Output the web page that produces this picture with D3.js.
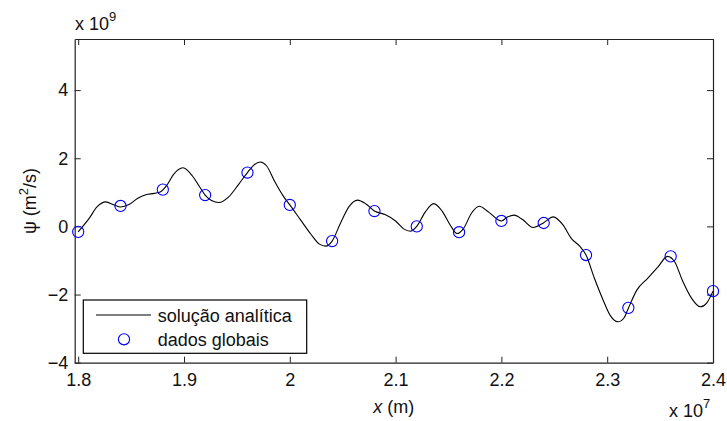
<!DOCTYPE html>
<html>
<head>
<meta charset="utf-8">
<script src="https://cdn.jsdelivr.net/npm/d3@7/dist/d3.min.js"></script>
<style>
  html, body { margin: 0; padding: 0; background: #fff; }
  svg { display: block; font-family: "Liberation Sans", Arial, Helvetica, sans-serif; }
</style>
</head>
<body>
<svg id="chart" width="727" height="421"></svg>
<script>
// x in units of 1e7 m, psi in units of 1e9 m^2/s
const analyticX = [
  1.800, 1.810, 1.818, 1.826, 1.834, 1.840, 1.848, 1.856, 1.864, 1.872,
  1.878, 1.884, 1.890, 1.899, 1.908, 1.915, 1.920, 1.926, 1.933, 1.942,
  1.952, 1.960, 1.966, 1.972, 1.978, 1.986, 1.994, 2.000, 2.010, 2.020,
  2.028, 2.034, 2.040, 2.048, 2.056, 2.064, 2.072, 2.080, 2.090, 2.100,
  2.108, 2.114, 2.120, 2.128, 2.136, 2.144, 2.152, 2.158, 2.164, 2.172,
  2.179, 2.188, 2.200, 2.206, 2.212, 2.220, 2.230, 2.240, 2.249, 2.258,
  2.266, 2.274, 2.280, 2.288, 2.296, 2.303, 2.310, 2.316, 2.320, 2.328,
  2.338, 2.348, 2.357, 2.364, 2.371, 2.380, 2.388, 2.394, 2.400
];
const analyticPsi = [
  -0.16, 0.22, 0.58, 0.72, 0.63, 0.57, 0.64, 0.82, 0.93, 0.97,
  1.02, 1.22, 1.52, 1.72, 1.48, 1.15, 0.92, 0.76, 0.70, 0.86,
  1.25, 1.58, 1.80, 1.89, 1.78, 1.30, 0.88, 0.63, 0.20, -0.23,
  -0.52, -0.58, -0.43, 0.10, 0.58, 0.77, 0.66, 0.45, 0.35, 0.16,
  -0.08, -0.14, 0.00, 0.42, 0.67, 0.45, 0.02, -0.21, -0.07, 0.40,
  0.59, 0.42, 0.16, 0.28, 0.33, 0.20, -0.03, 0.11, 0.28, 0.05,
  -0.35, -0.58, -0.84, -1.53, -2.15, -2.62, -2.80, -2.68, -2.40, -1.87,
  -1.53, -1.19, -0.88, -1.05, -1.58, -2.12, -2.36, -2.25, -1.90
];

const globalX = [1.80, 1.84, 1.88, 1.92, 1.96, 2.00, 2.04, 2.08, 2.12, 2.16, 2.20, 2.24, 2.28, 2.32, 2.36, 2.40];
const globalPsi = [-0.16, 0.60, 1.08, 0.92, 1.58, 0.63, -0.43, 0.45, 0.00, -0.17, 0.16, 0.10, -0.84, -2.39, -0.88, -1.90];

const xTicks = [1.8, 1.9, 2.0, 2.1, 2.2, 2.3, 2.4];
const xTickLabels = ["1.8", "1.9", "2", "2.1", "2.2", "2.3", "2.4"];
const yTicks = [-4, -2, 0, 2, 4];
const yTickLabels = ["\u22124", "\u22122", "0", "2", "4"];

const legendLabels = ["solução analítica", "dados globais"];

const W = 727, H = 421;
const margin = { left: 74.7, top: 39, right: 14, bottom: 58.3 };
const pw = W - margin.left - margin.right;
const ph = H - margin.top - margin.bottom;

const svg = d3.select("#chart");
const g = svg.append("g").attr("transform", `translate(${margin.left},${margin.top})`);

const x = d3.scaleLinear().domain([1.7967, 2.4]).range([0, pw]);
const y = d3.scaleLinear().domain([-4, 5.5]).range([ph, 0]);

const FS = 18;
const axisColor = "#222";
const tickLen = 6;

// axes on all four sides, ticks pointing inward
const axBottom = g.append("g").attr("transform", `translate(0,${ph})`)
  .call(d3.axisBottom(x).tickValues(xTicks).tickSizeInner(-tickLen).tickSizeOuter(0)
    .tickPadding(11).tickFormat((d, i) => xTickLabels[i]));
const axTop = g.append("g")
  .call(d3.axisTop(x).tickValues(xTicks).tickSizeInner(-tickLen).tickSizeOuter(0).tickFormat(""));
const axLeft = g.append("g")
  .call(d3.axisLeft(y).tickValues(yTicks).tickSizeInner(-tickLen).tickSizeOuter(0)
    .tickPadding(6.5).tickFormat((d, i) => yTickLabels[i]));
const axRight = g.append("g").attr("transform", `translate(${pw},0)`)
  .call(d3.axisRight(y).tickValues(yTicks).tickSizeInner(-tickLen).tickSizeOuter(0).tickFormat(""));

[axBottom, axTop, axLeft, axRight].forEach(a => {
  a.select(".domain").attr("stroke", axisColor).attr("stroke-width", 1.2);
  a.selectAll(".tick line").attr("stroke", axisColor).attr("stroke-width", 1);
  a.selectAll(".tick text").attr("fill", "#111").style("font-size", FS + "px")
    .style("font-family", '"Liberation Sans", Arial, sans-serif');
});

// analytic solution
const line = d3.line()
  .x((d, i) => x(analyticX[i]))
  .y(d => y(d))
  .curve(d3.curveMonotoneX);
g.append("path")
  .datum(analyticPsi)
  .attr("d", line)
  .attr("fill", "none")
  .attr("stroke", "#000")
  .attr("stroke-width", 1.1);

// sampled global data
g.selectAll("circle.pt")
  .data(globalPsi)
  .join("circle")
  .attr("class", "pt")
  .attr("cx", (d, i) => x(globalX[i]))
  .attr("cy", d => y(d))
  .attr("r", 5.6)
  .attr("fill", "none")
  .attr("stroke", "#0000ff")
  .attr("stroke-width", 1.1);

// multipliers
const m9 = svg.append("text").attr("x", 75).attr("y", 30).attr("fill", "#111")
  .style("font-size", FS + "px");
m9.append("tspan").text("x 10");
m9.append("tspan").attr("dy", -9).style("font-size", "13px").text("9");

const m7 = svg.append("text").attr("x", 669).attr("y", 417).attr("fill", "#111")
  .style("font-size", FS + "px");
m7.append("tspan").text("x 10");
m7.append("tspan").attr("dy", -9).style("font-size", "13px").text("7");

// axis titles
const xl = svg.append("text").attr("x", margin.left + pw / 2).attr("y", 413)
  .attr("text-anchor", "middle").attr("fill", "#111").style("font-size", FS + "px");
xl.append("tspan").style("font-style", "italic").text("x");
xl.append("tspan").text(" (m)");

const yl = svg.append("text")
  .attr("transform", `translate(36,201) rotate(-90)`)
  .attr("text-anchor", "middle").attr("fill", "#111").style("font-size", FS + "px");
yl.append("tspan").text("\u03c8 (m");
yl.append("tspan").attr("dy", -8).style("font-size", "13px").text("2");
yl.append("tspan").attr("dy", 8).text("/s)");

// legend
const lg = svg.append("g");
lg.append("rect").attr("x", 83.3).attr("y", 300).attr("width", 223.4).attr("height", 53.3)
  .attr("fill", "#fff").attr("stroke", "#000").attr("stroke-width", 1.2);
lg.append("line").attr("x1", 96).attr("x2", 151).attr("y1", 315).attr("y2", 315)
  .attr("stroke", "#000").attr("stroke-width", 1.1);
lg.append("circle").attr("cx", 124).attr("cy", 339.3).attr("r", 5.6)
  .attr("fill", "none").attr("stroke", "#0000ff").attr("stroke-width", 1.1);
lg.selectAll("text.lbl").data(legendLabels).join("text")
  .attr("class", "lbl")
  .attr("x", 157.7)
  .attr("y", (d, i) => 321.5 + i * 24.3)
  .attr("fill", "#111")
  .style("font-size", FS + "px")
  .text(d => d);
</script>
</body>
</html>
